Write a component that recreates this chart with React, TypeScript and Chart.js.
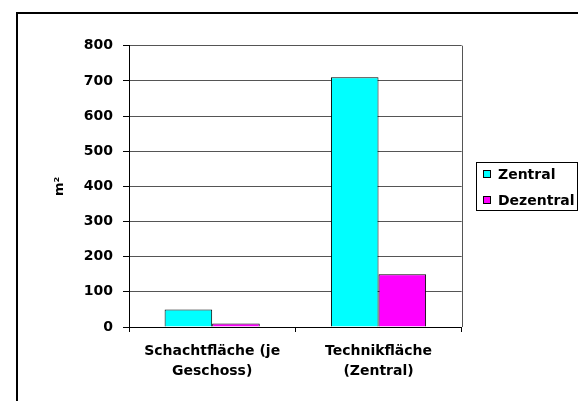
import React, { useEffect, useRef } from "react";
import { Chart, registerables } from "chart.js";

Chart.register(...registerables);

const categories: string[][] = [
  ["Schachtfläche (je", "Geschoss)"],
  ["Technikfläche", "(Zentral)"],
];
const seriesNames = ["Zentral", "Dezentral"];
const zentralValues = [50, 710];
const dezentralValues = [10, 150];
const yMin = 0;
const yMax = 800;
const yStep = 100;
const yAxisTitle = "m²";

const FONT = "'DejaVu Sans', 'Open Sans', sans-serif";

const framePlugin = {
  id: "frameAndLegend",
  beforeDraw(chart: any) {
    const ctx = chart.ctx as CanvasRenderingContext2D;
    ctx.save();
    ctx.fillStyle = "#ffffff";
    ctx.fillRect(0, 0, chart.width, chart.height);
    ctx.strokeStyle = "#000000";
    ctx.lineWidth = 2;
    ctx.strokeRect(17, 13, 900, 700);
    ctx.restore();
  },
  afterDraw(chart: any) {
    const ctx = chart.ctx as CanvasRenderingContext2D;
    const a = chart.chartArea;
    ctx.save();
    // plot area right border
    ctx.strokeStyle = "#555555";
    ctx.lineWidth = 1;
    ctx.beginPath();
    ctx.moveTo(Math.round(a.right) + 0.5, a.top);
    ctx.lineTo(Math.round(a.right) + 0.5, a.bottom);
    ctx.stroke();

    // legend
    const lx = 476.5;
    const ly = 162.5;
    const lw = 101;
    const lh = 48;
    ctx.strokeStyle = "#000000";
    ctx.strokeRect(lx, ly, lw, lh);
    ctx.font = `bold 14px ${FONT}`;
    ctx.textBaseline = "middle";
    ctx.textAlign = "left";
    chart.data.datasets.forEach((ds: any, i: number) => {
      const cy = 174.5 + i * 26;
      ctx.fillStyle = ds.backgroundColor;
      ctx.fillRect(483.5, cy - 4, 7, 7);
      ctx.strokeStyle = "#000000";
      ctx.strokeRect(483.5, cy - 4, 7, 7);
      ctx.fillStyle = "#000000";
      ctx.fillText(ds.label, 498, cy + 0.5);
    });
    ctx.restore();
  },
};

export default function App() {
  const ref = useRef<HTMLCanvasElement | null>(null);

  useEffect(() => {
    if (!ref.current) return;
    const chart = new Chart(ref.current, {
      type: "bar",
      data: {
        labels: categories as any,
        datasets: [
          {
            label: seriesNames[0],
            data: zentralValues,
            backgroundColor: "#00ffff",
            borderColor: "#000000",
            borderWidth: 1,
            categoryPercentage: 0.572,
            barPercentage: 1,
          },
          {
            label: seriesNames[1],
            data: dezentralValues,
            backgroundColor: "#ff00ff",
            borderColor: "#000000",
            borderWidth: 1,
            categoryPercentage: 0.572,
            barPercentage: 1,
          },
        ],
      },
      options: {
        responsive: false,
        animation: false,
        devicePixelRatio: 1,
        layout: { padding: { left: 0, top: 45.7, right: 116.3, bottom: 0 } },
        plugins: {
          legend: { display: false },
          tooltip: { enabled: false },
          title: { display: false },
        },
        scales: {
          x: {
            afterFit: (s: any) => {
              s.height = 74;
            },
            grid: {
              display: true,
              drawOnChartArea: false,
              drawTicks: true,
              tickLength: 5,
              offset: true,
              tickColor: "#000000",
            },
            border: { display: true, color: "#000000", width: 1 },
            ticks: {
              color: "#000000",
              padding: 10,
              maxRotation: 0,
              font: { family: FONT, size: 14, weight: "bold", lineHeight: 1.393 },
            },
          },
          y: {
            min: yMin,
            max: yMax,
            afterFit: (s: any) => {
              s.width = 129;
            },
            grid: {
              color: "#555555",
              drawTicks: true,
              tickLength: 6,
              tickColor: "#000000",
            },
            border: { display: true, color: "#000000", width: 1 },
            ticks: {
              stepSize: yStep,
              color: "#000000",
              padding: 10,
              font: { family: FONT, size: 14, weight: "bold" },
            },
            title: {
              display: true,
              text: yAxisTitle,
              color: "#000000",
              padding: { top: 51.6, bottom: 0 },
              font: { family: FONT, size: 13, weight: "bold", lineHeight: 1.2 },
            },
          },
        },
      },
      plugins: [framePlugin],
    });
    return () => chart.destroy();
  }, []);

  return (
    <div style={{ position: "fixed", left: 0, top: 0, width: 578, height: 401 }}>
      <canvas ref={ref} width={578} height={401} style={{ display: "block", width: 578, height: 401 }} />
    </div>
  );
}
